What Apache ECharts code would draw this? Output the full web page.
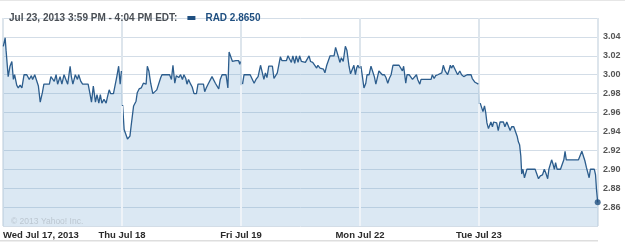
<!DOCTYPE html>
<html>
<head>
<meta charset="utf-8">
<script src="https://cdn.jsdelivr.net/npm/echarts@6/dist/echarts.min.js"></script>
<style>
html,body{margin:0;padding:0;background:#fff;}
#chart{width:625px;height:242px;}
</style>
</head>
<body>
<div id="chart"></div>
<script>
// Session days shown on the x axis
const dayLabels = ['Wed Jul 17, 2013', 'Thu Jul 18', 'Fri Jul 19', 'Mon Jul 22', 'Tue Jul 23'];
const sessionMinutes = 390;

// [minute since open, price] per session
const day1 = [[1,3.030],[7,3.039],[10,3.026],[17,2.998],[23,3.009],[29,3.014],[34,2.995],[38,3.000],[45,2.989],[50,2.986],[56,2.989],[62,2.986],[69,3.000],[78,3.000],[86,2.995],[93,2.999],[97,2.995],[104,3.000],[110,3.000],[116,2.988],[122,2.971],[129,2.981],[134,2.990],[143,2.990],[152,2.990],[157,2.998],[163,3.000],[168,2.993],[174,3.000],[179,2.990],[187,2.998],[193,2.990],[200,3.000],[206,3.000],[212,2.990],[220,3.009],[224,2.998],[229,2.990],[237,3.000],[244,2.995],[248,3.000],[255,2.993],[261,2.990],[270,2.990],[279,2.990],[285,2.980],[290,2.971],[296,2.988],[303,2.971],[308,2.979],[314,2.970],[319,2.979],[324,2.970],[331,2.974],[338,2.970],[342,2.976],[348,2.984],[353,2.980],[362,2.980],[367,2.980],[373,2.998],[379,3.009],[384,2.990],[388,3.004]];
const day2 = [[2,2.968],[7,2.942],[13,2.940],[18,2.932],[23,2.931],[26,2.935],[30,2.946],[34,2.948],[38,2.967],[42,2.965],[46,2.972],[50,2.981],[56,2.985],[63,2.986],[70,2.991],[74,2.993],[79,2.990],[83,3.009],[88,3.004],[94,2.991],[101,2.980],[107,2.980],[114,2.984],[120,2.986],[127,2.997],[131,3.000],[140,3.000],[149,3.000],[156,3.000],[162,2.995],[167,3.010],[173,2.991],[178,2.999],[186,2.997],[192,3.000],[198,2.995],[203,3.000],[209,2.996],[213,2.990],[218,2.995],[225,2.990],[230,2.987],[236,2.980],[244,2.980],[249,2.990],[256,2.990],[260,2.988],[267,2.990],[271,2.982],[276,2.986],[282,2.990],[288,2.990],[295,2.998],[300,3.000],[306,2.991],[311,2.990],[317,2.985],[322,2.995],[328,3.000],[334,3.000],[341,3.000],[347,2.986],[351,3.024],[356,3.024],[362,3.014],[367,3.014],[373,3.015],[378,3.013],[382,3.015],[386,3.011],[388,3.014]];
const day3 = [[5,2.990],[10,3.000],[16,3.000],[23,3.000],[30,3.000],[36,3.000],[43,2.991],[49,2.995],[56,2.998],[60,3.000],[64,3.010],[70,3.002],[75,2.995],[80,3.002],[85,2.997],[91,3.009],[96,3.010],[103,3.009],[108,2.996],[114,2.998],[119,3.002],[123,3.003],[129,3.019],[134,3.015],[141,3.015],[149,3.015],[154,3.020],[159,3.020],[165,3.013],[170,3.020],[176,3.012],[181,3.020],[187,3.013],[192,3.020],[198,3.014],[204,3.014],[211,3.013],[217,3.014],[223,3.020],[228,3.014],[235,3.013],[241,3.012],[248,3.007],[252,3.010],[259,3.007],[263,3.009],[270,3.006],[275,3.002],[281,3.010],[287,3.012],[292,3.020],[298,3.020],[305,3.020],[310,3.029],[315,3.030],[320,3.018],[324,3.013],[329,3.018],[335,3.014],[342,3.030],[347,3.026],[354,3.009],[359,3.001],[365,3.000],[370,3.010],[375,3.000],[379,3.007],[383,3.010],[388,3.007]];
const day4 = [[3,3.009],[8,2.998],[13,2.986],[19,2.991],[23,3.000],[30,3.000],[36,3.009],[41,3.011],[47,2.998],[52,2.990],[58,2.990],[62,3.004],[67,3.002],[73,3.000],[80,3.000],[85,2.997],[91,2.991],[96,2.996],[102,3.000],[108,3.010],[115,3.010],[121,3.010],[128,3.010],[134,3.010],[139,3.004],[143,3.009],[150,2.991],[154,3.000],[161,3.000],[167,3.000],[172,2.995],[178,2.995],[185,3.000],[189,2.995],[196,2.990],[200,2.995],[207,2.995],[214,2.995],[222,2.995],[228,2.995],[233,2.995],[237,3.000],[243,2.996],[248,2.999],[255,3.000],[261,3.002],[268,3.002],[273,3.010],[279,3.004],[283,3.005],[287,3.000],[292,3.005],[296,3.010],[300,3.007],[305,3.010],[309,3.009],[314,3.004],[320,3.000],[327,3.004],[333,3.000],[340,2.998],[345,2.996],[351,3.000],[357,3.000],[364,3.000],[368,2.996],[373,2.996],[377,2.992],[381,2.990],[388,2.990]];
const day5 = [[4,2.970],[9,2.968],[13,2.961],[18,2.967],[22,2.960],[26,2.949],[31,2.943],[35,2.945],[39,2.950],[44,2.945],[48,2.950],[52,2.949],[58,2.949],[63,2.941],[69,2.950],[74,2.948],[80,2.950],[85,2.945],[91,2.950],[96,2.949],[102,2.941],[107,2.945],[114,2.945],[120,2.944],[125,2.935],[129,2.929],[133,2.926],[137,2.914],[140,2.895],[144,2.900],[149,2.891],[153,2.889],[157,2.900],[164,2.900],[170,2.900],[177,2.900],[184,2.900],[190,2.900],[195,2.890],[201,2.893],[208,2.894],[214,2.900],[219,2.896],[225,2.890],[229,2.900],[234,2.900],[238,2.910],[243,2.905],[247,2.900],[251,2.907],[256,2.900],[260,2.900],[267,2.900],[273,2.900],[278,2.910],[282,2.919],[286,2.910],[293,2.910],[304,2.910],[315,2.910],[326,2.910],[332,2.910],[337,2.919],[343,2.919],[347,2.909],[352,2.902],[356,2.900],[361,2.891],[365,2.900],[371,2.900],[378,2.900],[382,2.894],[385,2.879],[389,2.865]];

const symbolName = 'RAD';
const lastQuote = '2.8650';
const headerRange = 'Jul 23, 2013 3:59 PM - 4:04 PM EDT:';
const copyright = '\u00A9 2013 Yahoo! Inc.';

const days = [day1, day2, day3, day4, day5];
const lineData = [];
const areaData = [];
days.forEach((d, i) => {
  if (i > 0) lineData.push([i * sessionMinutes, '-']);
  d.forEach(([m, v]) => {
    lineData.push([i * sessionMinutes + m, v]);
    areaData.push([i * sessionMinutes + m, v]);
  });
});
const lastPoint = areaData[areaData.length - 1];

const yMin = 2.84, yMax = 3.06;
// light separators over the fill at each session boundary, up to the fill top
const sepLines = [];
for (let i = 1; i < days.length; i++) {
  const prev = days[i - 1][days[i - 1].length - 1][1];
  const next = days[i][0][1];
  const top = Math.min(prev, next);
  sepLines.push([{coord: [i * sessionMinutes, yMin]}, {coord: [i * sessionMinutes, top - 0.001]}]);
}

const FONT = "'Liberation Sans', Arial, sans-serif";
const chart = echarts.init(document.getElementById('chart'), null, {renderer: 'canvas'});
chart.setOption({
  animation: false,
  backgroundColor: '#ffffff',
  title: [{
    left: 4, top: 4,
    text: '{a|' + headerRange + '}  {sq|}  {b|' + symbolName + ' ' + lastQuote + '}',
    textStyle: {
      fontFamily: FONT,
      rich: {
        a: {fontSize: 10, color: '#4a4f55', fontFamily: FONT},
        sq: {width: 8, height: 4, backgroundColor: '#1f4f80'},
        b: {fontSize: 10, fontWeight: 'bold', color: '#1f4f80', fontFamily: FONT}
      }
    }
  }, {
    left: 6, top: 212,
    text: copyright,
    textStyle: {fontSize: 8.5, color: '#bcc7d1', fontWeight: 'normal', fontFamily: FONT}
  }],
  graphic: [
    {type: 'rect', shape: {x: 0, y: 240, width: 598, height: 1.5}, style: {fill: '#dedede'}, silent: true},
    {type: 'rect', shape: {x: 0, y: 0, width: 625, height: 1}, style: {fill: '#e6e6e6'}, silent: true}
  ],
  grid: {left: 3, right: 27, top: 18, bottom: 16, containLabel: false},
  xAxis: {
    type: 'value', min: 0, max: sessionMinutes * dayLabels.length, interval: sessionMinutes,
    axisLine: {show: false}, axisTick: {show: false},
    splitLine: {show: true, lineStyle: {color: '#dde5ec', width: 2}},
    axisLabel: {
      margin: 4, fontFamily: FONT, fontSize: 9.5, fontWeight: 'bold', color: '#2a2a2a',
      alignMinLabel: 'left', showMaxLabel: false,
      formatter: v => dayLabels[Math.round(v / sessionMinutes)] || ''
    }
  },
  yAxis: {
    type: 'value', position: 'right', min: yMin, max: yMax, interval: 0.02,
    axisLine: {show: false}, axisTick: {show: false},
    splitLine: {show: true, lineStyle: {color: '#d3dde7', width: 1}},
    axisLabel: {
      margin: 5, fontFamily: FONT, fontSize: 9, fontWeight: 'bold', color: '#555',
      showMinLabel: false, showMaxLabel: false,
      formatter: v => v.toFixed(2)
    }
  },
  series: [{
    type: 'line', data: areaData, symbol: 'none', z: 2, silent: true,
    lineStyle: {width: 0},
    areaStyle: {color: 'rgba(105,158,204,0.34)', origin: 'start'},
    markLine: {
      silent: true, symbol: 'none', label: {show: false},
      lineStyle: {color: '#eef3f8', width: 2, type: 'solid'},
      data: sepLines
    }
  }, {
    type: 'line', data: lineData, symbol: 'none', z: 3, silent: true, connectNulls: false,
    lineStyle: {color: '#2c5d8d', width: 1.3}
  }, {
    type: 'scatter', data: [lastPoint], z: 4, silent: true,
    symbol: 'circle', symbolSize: 6, itemStyle: {color: '#1f4f80'}
  }]
});
</script>
</body>
</html>
